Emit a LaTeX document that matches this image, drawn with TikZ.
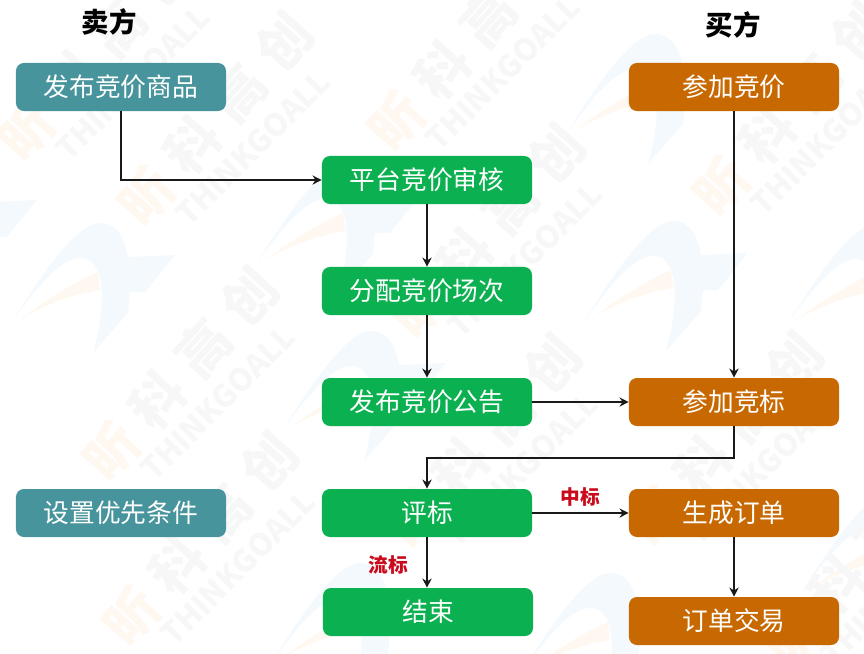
\documentclass[tikz,border=0pt]{standalone}
\usepackage{fontspec}
\setmainfont{Noto Sans CJK SC}
\usepackage{xcolor}
\usetikzlibrary{arrows.meta}
\definecolor{maiqing}{HTML}{47949C}
\definecolor{pinglv}{HTML}{0BB050}
\definecolor{maicheng}{HTML}{C86800}
\definecolor{biaohong}{HTML}{C80C1E}
\definecolor{danlan}{HTML}{F4F9FD}
\definecolor{danhuang}{HTML}{FEF8F1}
\definecolor{danhui}{HTML}{F7F7F7}
\newcommand{\shuiyinwen}{\textcolor{danhuang}{昕}\hspace{11pt}科\hspace{11pt}高\hspace{11pt}创}
\tikzset{
  kuang/.style={rounded corners=0.2cm,minimum width=5.25cm,minimum height=1.2cm,inner sep=0pt,text=white,font=\fontsize{18.3}{18}\selectfont},
  seller/.style={kuang,fill=maiqing},
  platform/.style={kuang,fill=pinglv},
  buyer/.style={kuang,fill=maicheng},
  jiao/.style={font=\fontsize{19.5}{20}\selectfont\bfseries},
  biao/.style={text=biaohong,font=\fontsize{14}{14}\selectfont\bfseries},
  xian/.style={-{Stealth[length=6.5pt,width=6.5pt]},line width=1pt,black!90},
  shuiyin/.style={rotate=48,inner sep=0pt,text=danhui,font=\fontsize{38}{38}\selectfont\bfseries},
  shuiyinb/.style={rotate=45,inner sep=0pt,text=danhui,font=\fontsize{22}{22}\selectfont\bfseries},
  logo/.pic={
    \fill[danlan] (12,122) .. controls (50,60) and (80,23) .. (100,23) .. controls (118,23) and (125,40) .. (128,57) -- (175,55) -- (145,92) -- (130,92) -- (128,113) -- (93,153) .. controls (105,110) and (108,58) .. (80,58) .. controls (60,58) and (35,90) .. (12,122) -- cycle;
    \fill[danhuang] (22,118) .. controls (45,100) and (75,82) .. (98,72) -- (100,90) .. controls (70,95) and (45,105) .. (22,118) -- cycle;
  }
}
\begin{document}
\begin{tikzpicture}[x=0.025cm,y=-0.025cm]
\useasboundingbox (0,0) rectangle (864,653);
% watermark
\foreach \lx/\ly in {0/200,573/198,245/141,271/308,555/11,776/201,-138/145,260/540,510/550,790/470}{
  \pic at (\lx,\ly) {logo};
}
\foreach \wx/\wy in {25/135,145/200,110/455,130/620,395/125,417/312,413/522,720/190,655/520,790/640}{
  \node[shuiyin] at (\wx+70,\wy-81) {\shuiyinwen};
  \node[shuiyinb] at (\wx+108,\wy-52) {THINKGOALL};
}
\node[jiao] (seller) at (109,22) {卖方};
\node[jiao] (buyer) at (733,25) {买方};
% left column
\node[seller] (publish) at (121,87) {发布竞价商品};
\node[seller] (priority) at (121,513) {设置优先条件};
% middle column
\node[platform] (audit) at (427,180) {平台竞价审核};
\node[platform] (assign) at (427,291) {分配竞价场次};
\node[platform] (notice) at (427,402) {发布竞价公告};
\node[platform] (review) at (427,513) {评标};
\node[platform] (finish) at (428,612) {结束};
% right column
\node[buyer] (join) at (734,87) {参加竞价};
\node[buyer] (bid) at (734,402) {参加竞标};
\node[buyer] (order) at (734,513) {生成订单};
\node[buyer] (trade) at (734,621) {订单交易};
\coordinate (turn) at (427,458);
% arrows
\draw[xian] (publish.south) |- (audit.west);
\draw[xian] (audit.south) -- (assign.north);
\draw[xian] (assign.south) -- (notice.north);
\draw[xian] (notice.east) -- (bid.west);
\draw[xian] (join.south) -- (bid.north);
\draw[xian] (bid.south) |- (turn) -- (review.north);
\draw[xian] (review.east) -- (order.west);
\draw[xian] (review.south) -- (review.south |- finish.north);
\draw[xian] (order.south) -- (trade.north);
\node[biao] (win) at (580,497) {中标};
\node[biao] (fail) at (388,565) {流标};
\end{tikzpicture}
\end{document}
